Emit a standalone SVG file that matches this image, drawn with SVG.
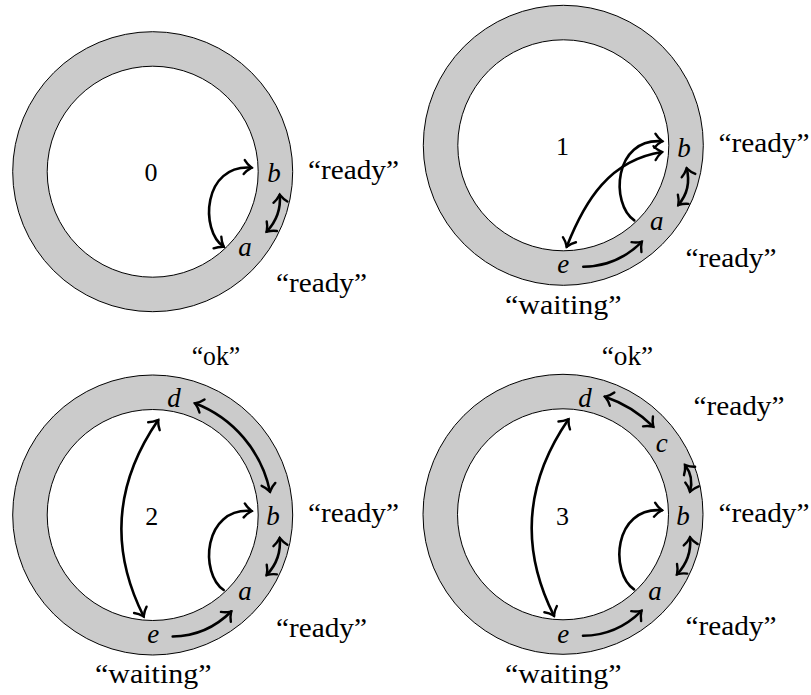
<svg xmlns="http://www.w3.org/2000/svg" width="811" height="695" viewBox="0 0 811 695">
<style>
.outer{fill:#cbcbcb;stroke:#000;stroke-width:1}
.inner{fill:#fff;stroke:#000;stroke-width:1}
.c{fill:none;stroke:#000;stroke-width:2.6;stroke-linecap:round}
.e{marker-end:url(#ah)}
.s{marker-start:url(#ah)}
</style>
<defs>
<marker id="ah" viewBox="-10 -10 20 20" markerWidth="20" markerHeight="20" refX="0" refY="0" orient="auto-start-reverse" markerUnits="userSpaceOnUse">
<path d="M-7.5,-7 C-4.5,-2.7 -1.2,-0.8 0,0 C-1.2,0.8 -4.5,2.7 -7.5,7" fill="none" stroke="#000" stroke-width="2.4" stroke-linecap="round"/>
</marker>
</defs>

<g id="ring0">
<circle class="outer" cx="152.7" cy="171.7" r="140"/>
<circle class="inner" cx="152.7" cy="171.7" r="105.5"/>
</g>
<g id="ring1">
<circle class="outer" cx="563.3" cy="145.3" r="140"/>
<circle class="inner" cx="563.3" cy="145.3" r="105.5"/>
</g>
<g id="ring2">
<circle class="outer" cx="152.7" cy="515" r="140"/>
<circle class="inner" cx="152.7" cy="515" r="105.5"/>
</g>
<g id="ring3">
<circle class="outer" cx="563" cy="514.3" r="140"/>
<circle class="inner" cx="563" cy="514.3" r="105.5"/>
</g>

<g id="connectors">
<g transform="translate(152.7,171.7)">
<path class="c s e" d="M71,75 C47,59 50,-8 99,-4"/>
<path class="c s e" d="M127,23 Q129,44 114,60"/>
</g>
<g transform="translate(563.3,145.3)">
<path class="c e" d="M71,75 C47,59 50,-8 99,-4"/>
<path class="c s e" d="M3.4,101.4 C21.7,54.7 46.7,14.7 98.7,6.7"/>
<path class="c s e" d="M123.4,23 Q128.6,43.9 115,59.7"/>
<path class="c e" d="M20,121.5 Q54,121 78.5,96.5"/>
</g>
<g transform="translate(152.7,515)">
<path class="c e" d="M71,75 C47,59 50,-8 99,-4"/>
<path class="c s e" d="M127,23 Q129,44 114,60"/>
<path class="c e" d="M20,121.5 Q54,121 78.5,96.5"/>
<path class="c s e" d="M-9,101.5 Q-60,0 5.5,-95"/>
<path class="c s e" d="M42.3,-111.7 A121,121 0 0 1 117.3,-23.3"/>
</g>
<g transform="translate(563,514.3)">
<path class="c e" d="M71,75 C47,59 50,-8 99,-4"/>
<path class="c s e" d="M127,23 Q129,44 114,60"/>
<path class="c e" d="M20,121.5 Q54,121 78.5,96.5"/>
<path class="c s e" d="M-9,101.5 Q-60,0 5.5,-95"/>
<path class="c s e" d="M42,-117.6 A125,125 0 0 1 90.3,-87.6"/>
<path class="c s e" d="M122,-49.3 Q131.1,-37.4 127,-22.6"/>
</g>
</g>

<g id="numbers" font-family="Liberation Serif, Times New Roman, serif" font-size="26" text-anchor="middle" fill="#000">
<text x="151" y="180.7">0</text>
<text x="562.5" y="155">1</text>
<text x="151.7" y="525">2</text>
<text x="562.5" y="525">3</text>
</g>

<g id="nodes" font-family="Liberation Serif, Times New Roman, serif" font-style="italic" font-size="27" text-anchor="middle" fill="#000">
<g id="node-0b"><text x="274" y="181.7">b</text></g>
<g id="node-0a"><text x="245" y="256">a</text></g>
<g id="node-1b"><text x="684" y="156.7">b</text></g>
<g id="node-1a"><text x="656.7" y="230">a</text></g>
<g id="node-1e"><text x="563.3" y="273.3">e</text></g>
<g id="node-2d"><text x="174" y="406.7">d</text></g>
<g id="node-2b"><text x="273" y="525">b</text></g>
<g id="node-2a"><text x="245" y="600">a</text></g>
<g id="node-2e"><text x="153.3" y="643.3">e</text></g>
<g id="node-3d"><text x="585" y="406.7">d</text></g>
<g id="node-3c"><text x="661.7" y="451.7">c</text></g>
<g id="node-3b"><text x="683" y="525">b</text></g>
<g id="node-3a"><text x="655" y="600">a</text></g>
<g id="node-3e"><text x="563.3" y="643.3">e</text></g>
</g>

<g id="labels" font-family="Liberation Serif, Times New Roman, serif" font-size="27" fill="#000">
<text x="308" y="178.5" textLength="91" lengthAdjust="spacingAndGlyphs">“ready”</text>
<text x="276" y="291.5" textLength="91" lengthAdjust="spacingAndGlyphs">“ready”</text>
<text x="718.5" y="152" textLength="91" lengthAdjust="spacingAndGlyphs">“ready”</text>
<text x="685.5" y="266.7" textLength="91" lengthAdjust="spacingAndGlyphs">“ready”</text>
<text x="505" y="314" textLength="116.5" lengthAdjust="spacingAndGlyphs">“waiting”</text>
<text x="191.7" y="364.5" textLength="48.5" lengthAdjust="spacingAndGlyphs">“ok”</text>
<text x="601.7" y="364.5" textLength="51.5" lengthAdjust="spacingAndGlyphs">“ok”</text>
<text x="308" y="521.7" textLength="91" lengthAdjust="spacingAndGlyphs">“ready”</text>
<text x="276" y="636.7" textLength="91" lengthAdjust="spacingAndGlyphs">“ready”</text>
<text x="95" y="683.3" textLength="116.5" lengthAdjust="spacingAndGlyphs">“waiting”</text>
<text x="693.5" y="415" textLength="91" lengthAdjust="spacingAndGlyphs">“ready”</text>
<text x="718.5" y="521.7" textLength="91" lengthAdjust="spacingAndGlyphs">“ready”</text>
<text x="685.5" y="635" textLength="91" lengthAdjust="spacingAndGlyphs">“ready”</text>
<text x="505" y="683.3" textLength="116.5" lengthAdjust="spacingAndGlyphs">“waiting”</text>
</g>
</svg>
